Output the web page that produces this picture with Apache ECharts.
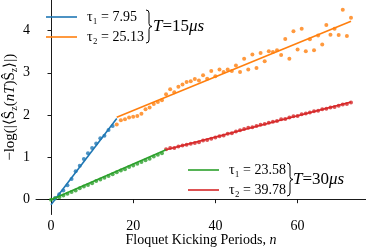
<!DOCTYPE html>
<html><head><meta charset="utf-8">
<script src="https://cdn.jsdelivr.net/npm/echarts@6/dist/echarts.min.js"></script>
<style>html,body{margin:0;padding:0;background:#fff}#c{width:366px;height:250px}</style>
</head><body><div id="c"></div>
<script>
// ---- data ----
const xTicks = [0, 20, 40, 60];
const yTicks = [0, 1, 2, 3, 4];

const blueN = [1,2,3,4,5,6,7,8,9,10,11,12,13,14,15];
const blueV = [0.04,0.13,0.22,0.34,0.49,0.67,0.80,0.96,1.10,1.22,1.33,1.45,1.51,1.65,1.74];
const blueFitN = [0, 16];
const blueFitV = [-0.12, 1.92];

const orangeN = [16,17,18,19,20,21,22,23,24,25,26,27,28,29,30,31,32,33,34,35,36,37,38,39,40,41,42,43,44,45,46,47,48,49,50,51,52,53,54,55,56,57,58,59,60,61,62,63,64,65,66,67,68,69,70,71,72,73];
const orangeV = [1.78,1.88,1.90,1.94,1.96,1.98,2.03,2.14,2.18,2.26,2.31,2.35,2.49,2.61,2.54,2.67,2.72,2.78,2.80,2.85,2.82,2.94,2.86,3.04,2.92,3.08,3.02,3.08,3.04,3.17,3.02,3.33,3.08,3.43,3.11,3.47,3.27,3.51,3.49,3.53,3.42,3.80,3.33,3.98,3.55,4.04,3.51,3.79,3.53,3.88,3.67,4.13,3.90,4.04,3.89,4.49,3.87,4.30];
const orangeFitN = [16, 73];
const orangeFitV = [1.95, 4.22];

const greenN = [0,1,2,3,4,5,6,7,8,9,10,11,12,13,14,15,16,17,18,19,20,21,22,23,24,25,26,27];
const greenV = [0.00,0.03,0.06,0.10,0.14,0.18,0.22,0.27,0.31,0.35,0.39,0.44,0.48,0.52,0.56,0.60,0.65,0.69,0.72,0.77,0.81,0.85,0.89,0.93,0.97,1.02,1.06,1.10];
const greenFitN = [0, 28];
const greenFitV = [0.0, 1.18];

const redN = [28,29,30,31,32,33,34,35,36,37,38,39,40,41,42,43,44,45,46,47,48,49,50,51,52,53,54,55,56,57,58,59,60,61,62,63,64,65,66,67,68,69,70,71,72,73];
const redV = [1.19,1.22,1.22,1.26,1.28,1.30,1.32,1.34,1.36,1.40,1.41,1.44,1.47,1.50,1.52,1.56,1.57,1.61,1.64,1.67,1.70,1.71,1.74,1.77,1.79,1.82,1.84,1.86,1.90,1.91,1.94,1.97,1.98,2.02,2.04,2.06,2.09,2.10,2.14,2.15,2.18,2.19,2.22,2.25,2.26,2.30];
const redFitN = [28, 73];
const redFitV = [1.18, 2.31];

const legendTop = ['τ₁ = 7.95', 'τ₂ = 25.13'];
const legendBottom = ['τ₁ = 23.58', 'τ₂ = 39.78'];

// ---- build ----
const zip = (a, b) => a.map((v, i) => [v, b[i]]);
const C = {blue:'#1f77b4', orange:'#ff7f0e', green:'#2ca02c', red:'#d62728'};
const FONT = 'Liberation Serif';

function scatter(name, n, v, color) {
  return {type:'scatter', name, data: zip(n, v), symbol:'circle', symbolSize:4,
    itemStyle:{color}, z:2, silent:true};
}
function fit(name, n, v, color) {
  return {type:'line', name, data: zip(n, v), showSymbol:false, symbol:'none',
    lineStyle:{color, width:1.6}, itemStyle:{color}, z:3, silent:true};
}
function brace(x0, y0, w, h) {
  const xm = x0 + w / 2, ym = y0 + h / 2, y1 = y0 + h, r = 3;
  const st = {fill:null, stroke:'#000', lineWidth:1};
  const q = (a, b, c, d, e, f) => ({type:'bezierCurve', silent:true,
    shape:{x1:a, y1:b, cpx1:c, cpy1:d, x2:e, y2:f}, style:st});
  const l = (a, b, c, d) => ({type:'line', silent:true, shape:{x1:a, y1:b, x2:c, y2:d}, style:st});
  return [
    q(x0, y0, xm, y0, xm, y0 + r),
    l(xm, y0 + r, xm, ym - r),
    q(xm, ym - r, xm, ym, x0 + w, ym),
    q(x0 + w, ym, xm, ym, xm, ym + r),
    l(xm, ym + r, xm, y1 - r),
    q(xm, y1 - r, xm, y1, x0, y1)
  ];
}

const chart = echarts.init(document.getElementById('c'), null, {renderer:'canvas'});
chart.setOption({
  animation:false,
  backgroundColor:'#fff',
  textStyle:{fontFamily:FONT},
  grid:{left:36, right:0, top:0, bottom:35.5, containLabel:false, outerBoundsMode:'none'},
  xAxis:{type:'value', min:-3.65, max:76.65,
    axisLine:{lineStyle:{color:'#000', width:0.9}},
    axisTick:{customValues:xTicks, length:3.5, lineStyle:{color:'#000', width:0.9}},
    axisLabel:{customValues:xTicks, color:'#000', fontSize:14, fontFamily:FONT, margin:5},
    splitLine:{show:false},
    name:'Floquet Kicking Periods, {i|n}', nameLocation:'middle', nameGap:19, nameMoveOverlap:false,
    nameTextStyle:{color:'#000', fontSize:14, fontFamily:FONT,
      rich:{i:{fontStyle:'italic', fontSize:14, fontFamily:FONT, color:'#000'}}}
  },
  yAxis:{type:'value', min:-0.35, max:4.72,
    axisLine:{lineStyle:{color:'#000', width:0.9}},
    axisTick:{customValues:yTicks, length:3.5, lineStyle:{color:'#000', width:0.9}},
    axisLabel:{customValues:yTicks, color:'#000', fontSize:14, fontFamily:FONT, margin:6},
    splitLine:{show:false},
    name:'−log(|⟨Ŝ{s|z}({i|nT})Ŝ{s|z}⟩|)', nameLocation:'middle', nameGap:17, nameRotate:90, nameMoveOverlap:false,
    nameTextStyle:{color:'#000', fontSize:15, fontFamily:FONT,
      rich:{i:{fontStyle:'italic', fontSize:15, fontFamily:FONT, color:'#000'},
            s:{fontSize:10, fontFamily:FONT, color:'#000', verticalAlign:'bottom', padding:[7,0,0,0]}}}
  },
  legend:[
    {data:legendTop, orient:'vertical', left:46, top:10, padding:0, itemWidth:31, itemHeight:14, itemGap:6,
     icon:'path://M0,6 L31,6 L31,7.6 L0,7.6 Z',
     textStyle:{fontSize:14, fontFamily:FONT, color:'#000', padding:[0,0,0,5]}, selectedMode:false},
    {data:legendBottom, orient:'vertical', left:188, top:163, padding:0, itemWidth:31, itemHeight:14, itemGap:6,
     icon:'path://M0,6 L31,6 L31,7.6 L0,7.6 Z',
     textStyle:{fontSize:14, fontFamily:FONT, color:'#000', padding:[0,0,0,5]}, selectedMode:false}
  ],
  graphic:[
    ...brace(146, 10, 6, 33),
    {type:'text', left:153, top:18, style:{text:'{i|T}=15{i|μs}', fontSize:17, fontFamily:FONT, fill:'#000',
      rich:{i:{fontStyle:'italic', fontSize:17, fontFamily:FONT}}}},
    ...brace(287, 163, 6, 33),
    {type:'text', left:293, top:171, style:{text:'{i|T}=30{i|μs}', fontSize:17, fontFamily:FONT, fill:'#000',
      rich:{i:{fontStyle:'italic', fontSize:17, fontFamily:FONT}}}}
  ],
  series:[
    scatter('pb', blueN, blueV, C.blue),
    scatter('po', orangeN, orangeV, C.orange),
    scatter('pg', greenN, greenV, C.green),
    scatter('pr', redN, redV, C.red),
    fit(legendTop[0], blueFitN, blueFitV, C.blue),
    fit(legendTop[1], orangeFitN, orangeFitV, C.orange),
    fit(legendBottom[0], greenFitN, greenFitV, C.green),
    fit(legendBottom[1], redFitN, redFitV, C.red)
  ]
});
</script></body></html>
